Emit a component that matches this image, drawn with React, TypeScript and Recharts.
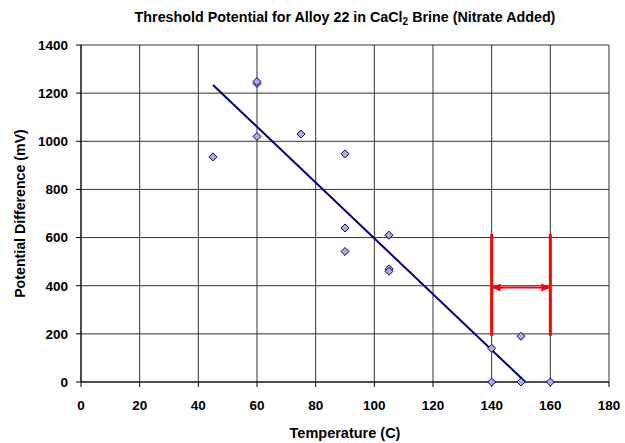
import React from 'react';
import { ScatterChart, Scatter, XAxis, YAxis, CartesianGrid, ReferenceLine } from 'recharts';

const temperatures = [45, 60, 60, 60, 75, 90, 90, 90, 105, 105, 105, 140, 140, 150, 150, 160];
const potentials = [935, 1240, 1248, 1020, 1030, 948, 640, 542, 610, 470, 460, 140, 0, 190, 0, 0];
const xTicks = [0, 20, 40, 60, 80, 100, 120, 140, 160, 180];
const yTicks = [0, 200, 400, 600, 800, 1000, 1200, 1400];
const trendX = [45, 151.5];
const trendY = [1234, 0];
const rangeX = [140, 160];
const bracketY = [192, 615];
const arrowLevel = 393;

const points = temperatures.map((t, i) => ({ x: t, y: potentials[i] }));
const arrowLeft = [{ x: rangeX[0], y: arrowLevel }];
const arrowRight = [{ x: rangeX[1], y: arrowLevel }];

const FONT = '"Liberation Sans", Arial, Helvetica, sans-serif';
const tickStyle = { fontFamily: FONT, fontSize: 13.5, fontWeight: 700, fill: '#000' };

const Diamond = (props: any) => {
  const { cx, cy } = props;
  if (cx == null || cy == null) return null;
  const r = 4;
  return (
    <path
      d={`M${cx},${cy - r}L${cx + r},${cy}L${cx},${cy + r}L${cx - r},${cy}Z`}
      fill="#a9b0d2"
      stroke="#000080"
      strokeWidth={1}
    />
  );
};

const makeArrow = (dir: number) => (props: any) => {
  const { cx, cy } = props;
  if (cx == null || cy == null) return null;
  const len = 9;
  const half = 4;
  return (
    <path
      d={`M${cx},${cy}L${cx - dir * len},${cy - half}L${cx - dir * len},${cy + half}Z`}
      fill="#ff0000"
      stroke="none"
    />
  );
};

const XLabel = (props: any) => {
  const vb = props.viewBox || {};
  return (
    <text
      x={vb.x + vb.width / 2}
      y={vb.y + 51}
      textAnchor="middle"
      dominantBaseline="central"
      style={{ fontFamily: FONT, fontSize: 14.5, fontWeight: 700 }}
      fill="#000"
    >
      Temperature (C)
    </text>
  );
};

const YLabel = (props: any) => {
  const vb = props.viewBox || {};
  const x = vb.x + 20;
  const y = vb.y + vb.height / 2;
  return (
    <text
      x={x}
      y={y}
      transform={`rotate(-90 ${x} ${y})`}
      textAnchor="middle"
      dominantBaseline="central"
      style={{ fontFamily: FONT, fontSize: 14.2, fontWeight: 700 }}
      fill="#000"
    >
      Potential Difference (mV)
    </text>
  );
};

export default function App() {
  return (
    <div style={{ position: 'absolute', left: 0, top: 0, width: 625, height: 443, background: '#fff' }}>
      <div
        style={{
          position: 'absolute',
          left: 81,
          top: 8,
          width: 528,
          textAlign: 'center',
          fontFamily: FONT,
          fontSize: 14.3,
          fontWeight: 700,
          lineHeight: '18px',
          color: '#000',
          whiteSpace: 'nowrap',
        }}
      >
        Threshold Potential for Alloy 22 in CaCl
        <sub style={{ fontSize: 10, lineHeight: 0, verticalAlign: '-3px' }}>2</sub> Brine (Nitrate Added)
      </div>
      <ScatterChart width={625} height={443} margin={{ top: 45, right: 16, bottom: 0, left: 0 }}>
        <CartesianGrid stroke="#333" strokeWidth={1} horizontalValues={yTicks} verticalValues={xTicks} />
        <XAxis
          type="number"
          dataKey="x"
          domain={[0, 180]}
          ticks={xTicks}
          interval={0}
          tick={tickStyle}
          tickSize={5}
          tickMargin={13}
          stroke="#000"
          height={61}
          label={<XLabel />}
        />
        <YAxis
          type="number"
          dataKey="y"
          domain={[0, 1400]}
          ticks={yTicks}
          interval={0}
          tick={tickStyle}
          tickSize={5}
          tickMargin={8}
          stroke="#000"
          width={81}
          label={<YLabel />}
        />
        <ReferenceLine
          segment={[{ x: trendX[0], y: trendY[0] }, { x: trendX[1], y: trendY[1] }]}
          stroke="#00007f"
          strokeWidth={2}
          ifOverflow="visible"
        />
        <ReferenceLine
          segment={[{ x: rangeX[0], y: bracketY[0] }, { x: rangeX[0], y: bracketY[1] }]}
          stroke="#ff0000"
          strokeWidth={3}
          ifOverflow="visible"
        />
        <ReferenceLine
          segment={[{ x: rangeX[1], y: bracketY[0] }, { x: rangeX[1], y: bracketY[1] }]}
          stroke="#ff0000"
          strokeWidth={3}
          ifOverflow="visible"
        />
        <ReferenceLine
          segment={[{ x: rangeX[0], y: arrowLevel }, { x: rangeX[1], y: arrowLevel }]}
          stroke="#ff0000"
          strokeWidth={2}
          ifOverflow="visible"
        />
        <Scatter data={arrowLeft} shape={makeArrow(-1)} isAnimationActive={false} />
        <Scatter data={arrowRight} shape={makeArrow(1)} isAnimationActive={false} />
        <Scatter data={points} shape={<Diamond />} isAnimationActive={false} />
      </ScatterChart>
    </div>
  );
}
